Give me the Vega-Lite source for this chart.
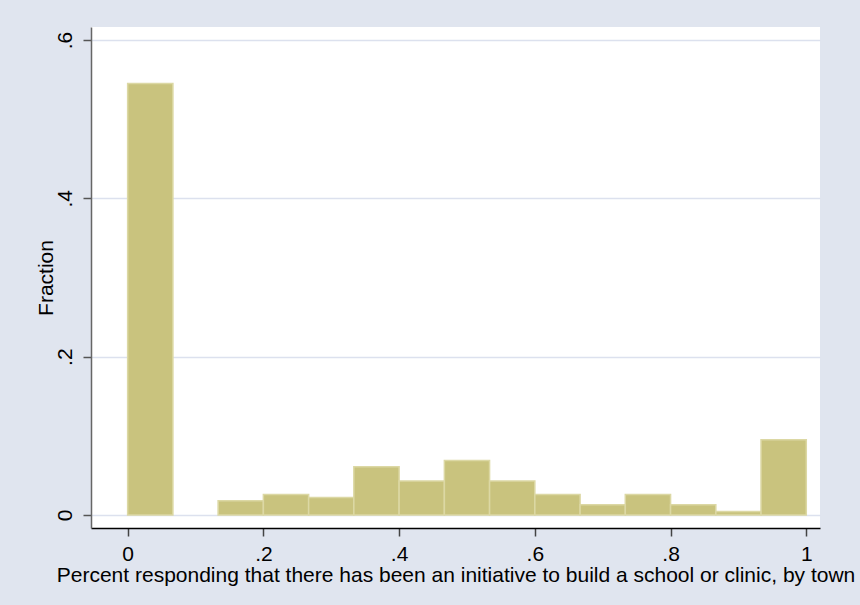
{
  "$schema": "https://vega.github.io/schema/vega-lite/v6.json",
  "width": 729,
  "height": 501,
  "autosize": {"type": "none"},
  "padding": {"left": 91, "top": 27, "right": 40, "bottom": 77},
  "background": "#E0E5EF",
  "config": {
    "font": "Liberation Sans",
    "view": {"fill": "white", "stroke": null}
  },
  "data": {
    "values": [
      {"bin_start": 0.0, "bin_end": 0.0667, "fraction": 0.545},
      {"bin_start": 0.1333, "bin_end": 0.2, "fraction": 0.018},
      {"bin_start": 0.2, "bin_end": 0.2667, "fraction": 0.026},
      {"bin_start": 0.2667, "bin_end": 0.3333, "fraction": 0.022},
      {"bin_start": 0.3333, "bin_end": 0.4, "fraction": 0.061},
      {"bin_start": 0.4, "bin_end": 0.4667, "fraction": 0.043},
      {"bin_start": 0.4667, "bin_end": 0.5333, "fraction": 0.069},
      {"bin_start": 0.5333, "bin_end": 0.6, "fraction": 0.043},
      {"bin_start": 0.6, "bin_end": 0.6667, "fraction": 0.026},
      {"bin_start": 0.6667, "bin_end": 0.7333, "fraction": 0.013},
      {"bin_start": 0.7333, "bin_end": 0.8, "fraction": 0.026},
      {"bin_start": 0.8, "bin_end": 0.8667, "fraction": 0.013},
      {"bin_start": 0.8667, "bin_end": 0.9333, "fraction": 0.0045},
      {"bin_start": 0.9333, "bin_end": 1.0, "fraction": 0.095}
    ]
  },
  "mark": {
    "type": "bar",
    "fill": "#C9C37E",
    "stroke": "#DCD8A4",
    "strokeWidth": 1.5
  },
  "encoding": {
    "x": {
      "field": "bin_start",
      "type": "quantitative",
      "scale": {"domain": [-0.054, 1.0202], "nice": false, "zero": false},
      "axis": {
        "values": [0, 0.2, 0.4, 0.6, 0.8, 1],
        "labelExpr": "datum.value == 0 ? '0' : datum.value == 1 ? '1' : replace(format(datum.value, '.1f'), '0.', '.')",
        "grid": false,
        "domainColor": "#000000",
        "domainWidth": 1.5,
        "tickColor": "#444444",
        "tickWidth": 1.5,
        "tickSize": 8,
        "labelFontSize": 21,
        "labelColor": "#000000",
        "labelPadding": 7,
        "labelBaseline": "top",
        "labelFlush": false,
        "labelOverlap": false,
        "title": "Percent responding that there has been an initiative to build a school or clinic, by town",
        "titleFontSize": 21,
        "titleFontWeight": "normal",
        "titleColor": "#000000",
        "titleAlign": "center",
        "titleBaseline": "alphabetic",
        "titleX": 364.5,
        "titleY": 53
      }
    },
    "x2": {"field": "bin_end"},
    "y": {
      "field": "fraction",
      "type": "quantitative",
      "scale": {"domain": [-0.0164, 0.6164], "nice": false, "zero": false},
      "axis": {
        "values": [0, 0.2, 0.4, 0.6],
        "labelExpr": "datum.value == 0 ? '0' : replace(format(datum.value, '.1f'), '0.', '.')",
        "grid": true,
        "gridColor": "#DCE1EE",
        "gridWidth": 1.5,
        "domainColor": "#666666",
        "domainWidth": 1.5,
        "tickColor": "#555555",
        "tickWidth": 1.5,
        "tickSize": 8,
        "labelFontSize": 21,
        "labelColor": "#000000",
        "labelAngle": 270,
        "labelAlign": "center",
        "labelBaseline": "alphabetic",
        "labelPadding": 12,
        "labelFlush": false,
        "labelOverlap": false,
        "title": "Fraction",
        "titleFontSize": 21,
        "titleFontWeight": "normal",
        "titleColor": "#000000",
        "titleAngle": 270,
        "titleAlign": "center",
        "titleBaseline": "alphabetic",
        "titleX": -39,
        "titleY": 250.5
      }
    },
    "y2": {"datum": 0}
  }
}
